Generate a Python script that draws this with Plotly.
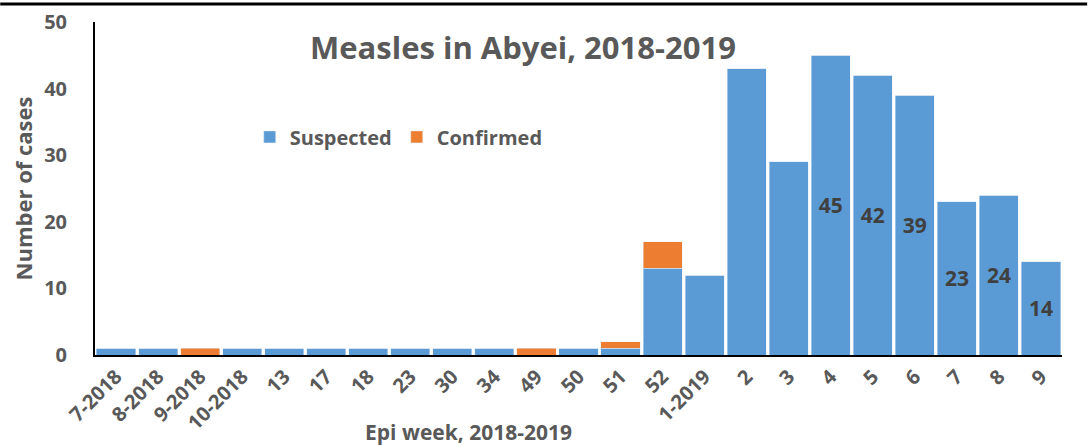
"""Measles in Abyei, 2018-2019: weekly suspected and confirmed cases."""

import plotly.graph_objects as go

# Colours (Office palette)
BLUE = "#5B9BD5"
ORANGE = "#ED7D31"
GRAY_TEXT = "#595959"
DARK_TEXT = "#404040"
FONT = "Open Sans"

# Data
EPI_WEEKS = [
    "7-2018", "8-2018", "9-2018", "10-2018", "13", "17", "18", "23", "30",
    "34", "49", "50", "51", "52", "1-2019", "2", "3", "4", "5", "6", "7",
    "8", "9",
]
SUSPECTED = [1, 1, 0, 1, 1, 1, 1, 1, 1, 1, 0, 1, 1, 13, 12, 43, 29, 45, 42, 39, 23, 24, 14]
CONFIRMED = [0, 0, 1, 0, 0, 0, 0, 0, 0, 0, 1, 0, 1, 4, 0, 0, 0, 0, 0, 0, 0, 0, 0]
# weeks that carry a data label in the original
LABELLED_WEEKS = ["4", "5", "6", "7", "8", "9"]

suspected_text = [
    str(v) if w in LABELLED_WEEKS else "" for w, v in zip(EPI_WEEKS, SUSPECTED)
]

fig = go.Figure()
fig.add_trace(
    go.Bar(
        x=EPI_WEEKS,
        y=SUSPECTED,
        name="Suspected",
        marker_color=BLUE,
        text=suspected_text,
        textposition="inside",
        insidetextanchor="middle",
        textangle=0,
        textfont=dict(family=FONT, size=21, color=DARK_TEXT, weight="bold"),
    )
)
fig.add_trace(
    go.Bar(
        x=EPI_WEEKS,
        y=CONFIRMED,
        name="Confirmed",
        marker_color=ORANGE,
    )
)

fig.update_layout(
    width=1088,
    height=446,
    barmode="stack",
    bargap=0.07,
    plot_bgcolor="white",
    paper_bgcolor="white",
    font=dict(family=FONT, color=GRAY_TEXT, weight="bold"),
    margin=dict(l=95, r=26, t=22, b=91),
    showlegend=True,
    legend=dict(
        orientation="h",
        traceorder="normal",
        x=0.16,
        y=0.655,
        xanchor="left",
        yanchor="middle",
        font=dict(size=20, color=GRAY_TEXT),
        bgcolor="rgba(0,0,0,0)",
        itemwidth=30,
    ),
    xaxis=dict(
        type="category",
        automargin=False,
        showline=True,
        linecolor="black",
        linewidth=2,
        tickangle=-45,
        tickfont=dict(size=20, color=GRAY_TEXT),
        showgrid=False,
        ticks="",
    ),
    yaxis=dict(
        range=[0, 50],
        dtick=10,
        automargin=False,
        showline=True,
        linecolor="black",
        linewidth=2,
        showgrid=False,
        zeroline=False,
        ticks="",
        ticklabelstandoff=22,
        tickfont=dict(size=20, color=GRAY_TEXT),
        title=dict(text="Number of cases", font=dict(size=22, color=GRAY_TEXT), standoff=5),
    ),
    annotations=[
        dict(
            text="Measles in Abyei, 2018-2019",
            xref="paper", yref="paper",
            x=0.443, y=0.925,
            xanchor="center", yanchor="middle",
            showarrow=False,
            font=dict(size=31, color=GRAY_TEXT, weight="bold"),
        ),
        dict(
            text="Epi week, 2018-2019",
            xref="paper", yref="paper",
            x=0.386, y=-0.232,
            xanchor="center", yanchor="middle",
            showarrow=False,
            font=dict(size=21, color=GRAY_TEXT, weight="bold"),
        ),
    ],
    shapes=[
        # border line along the top of the image
        dict(
            type="line", xref="paper", yref="paper",
            x0=-0.098, x1=1.026, y0=1.054, y1=1.054,
            line=dict(color="black", width=3),
            layer="above",
        )
    ],
)

# drop the default page margin so the figure sits at the window's corner
fig.write_html(
    "out.html",
    config={"displayModeBar": False},
    post_script="document.body.style.margin='0';document.body.style.overflow='hidden';",
)
